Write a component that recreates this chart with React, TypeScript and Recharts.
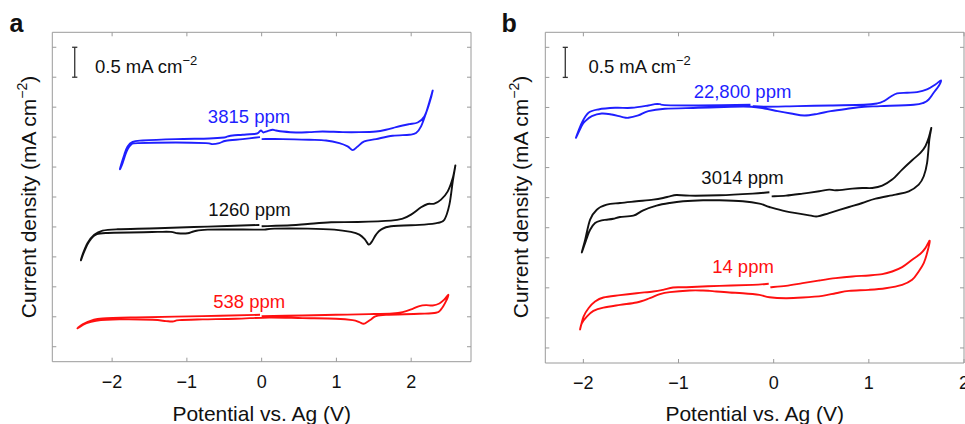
import React from 'react';
import { LineChart, Line, XAxis, YAxis, ReferenceLine } from 'recharts';

// potential (V) vs current density (mA cm-2, offset per trace)
const xTicks = [-2, -1, 0, 1, 2];
const yTicks = [0, 0.5, 1, 1.5, 2, 2.5, 3, 3.5, 4, 4.5, 5];
const scaleBar = 0.5;

const cvA3815 = [
  [0.0, 3.467], [0.281, 3.467], [0.638, 3.456], [0.861, 3.444], [1.039, 3.4], [1.15, 3.344], [1.217, 3.283],
  [1.284, 3.344], [1.373, 3.428], [1.53, 3.467], [1.753, 3.522], [1.975, 3.539], [2.065, 3.567], [2.132, 3.678],
  [2.198, 3.9], [2.252, 4.122], [2.288, 4.278], [2.243, 4.067], [2.176, 3.844], [2.087, 3.744], [1.975, 3.717],
  [1.886, 3.694], [1.797, 3.667], [1.663, 3.622], [1.53, 3.594], [1.307, 3.583], [1.084, 3.583], [0.816, 3.594],
  [0.638, 3.583], [0.459, 3.578], [0.281, 3.594], [0.192, 3.611], [0.147, 3.622], [0.08, 3.6], [0.022, 3.578],
  [-0.009, 3.611], [-0.04, 3.578], [-0.076, 3.556], [-0.254, 3.539], [-0.388, 3.528], [-0.455, 3.511],
  [-0.499, 3.494], [-0.7, 3.478], [-1.146, 3.467], [-1.592, 3.444], [-1.726, 3.422], [-1.793, 3.344],
  [-1.837, 3.206], [-1.895, 2.967], [-1.86, 3.067], [-1.806, 3.261], [-1.748, 3.372], [-1.659, 3.4],
  [-1.146, 3.411], [-0.745, 3.4], [-0.656, 3.383], [-0.566, 3.4], [-0.477, 3.439], [-0.254, 3.467], [-0.022, 3.5],
];

const cvA1260 = [
  [0.0, 2.011], [0.392, 2.028], [0.616, 2.05], [0.928, 2.078], [1.284, 2.083], [1.73, 2.106], [1.886, 2.139],
  [1.998, 2.206], [2.132, 2.328], [2.221, 2.383], [2.31, 2.389], [2.399, 2.456], [2.489, 2.594], [2.556, 2.817],
  [2.591, 3.028], [2.556, 2.761], [2.511, 2.372], [2.444, 2.122], [2.355, 2.067], [2.176, 2.039], [1.73, 2.011],
  [1.596, 1.956], [1.53, 1.872], [1.472, 1.75], [1.431, 1.706], [1.383, 1.789], [1.307, 1.872], [1.195, 1.917],
  [0.972, 1.956], [0.616, 1.972], [0.17, 1.972], [0.036, 1.956], [-0.098, 1.956], [-0.722, 1.956],
  [-0.901, 1.928], [-0.99, 1.894], [-1.124, 1.894], [-1.213, 1.917], [-1.391, 1.917], [-2.06, 1.9],
  [-2.216, 1.872], [-2.305, 1.761], [-2.372, 1.594], [-2.417, 1.444], [-2.395, 1.539], [-2.328, 1.733],
  [-2.239, 1.872], [-2.127, 1.939], [-1.926, 1.961], [-1.391, 1.978], [-0.722, 2.006], [-0.031, 2.033],
];

const cvA538 = [
  [0.0, 0.511], [0.548, 0.522], [0.994, 0.533], [1.44, 0.544], [1.752, 0.556], [1.886, 0.578], [2.02, 0.633],
  [2.109, 0.678], [2.198, 0.694], [2.288, 0.689], [2.377, 0.722], [2.444, 0.789], [2.497, 0.867], [2.466, 0.761],
  [2.399, 0.622], [2.332, 0.567], [2.109, 0.55], [1.663, 0.533], [1.529, 0.511], [1.462, 0.456], [1.396, 0.4],
  [1.36, 0.383], [1.306, 0.411], [1.217, 0.444], [0.994, 0.467], [0.548, 0.478], [0.102, 0.489],
  [-0.343, 0.467], [-0.789, 0.456], [-1.101, 0.444], [-1.19, 0.422], [-1.28, 0.428], [-1.458, 0.45],
  [-1.904, 0.456], [-2.216, 0.433], [-2.35, 0.389], [-2.462, 0.306], [-2.395, 0.372], [-2.261, 0.444],
  [-2.127, 0.472], [-1.681, 0.489], [-0.789, 0.511], [-0.022, 0.533],
];

const cvB22800 = [
  [-0.22, 4.022], [-0.098, 4.011], [0.251, 4.022], [0.6, 4.033], [0.949, 4.044], [1.088, 4.067], [1.158, 4.106],
  [1.228, 4.178], [1.297, 4.233], [1.402, 4.244], [1.507, 4.256], [1.611, 4.3], [1.699, 4.383], [1.758, 4.45],
  [1.734, 4.356], [1.681, 4.244], [1.629, 4.133], [1.577, 4.078], [1.472, 4.044], [1.123, 4.022], [0.949, 4.011],
  [0.775, 3.978], [0.6, 3.939], [0.461, 3.894], [0.321, 3.867], [0.182, 3.9], [0.042, 3.939], [-0.098, 3.983],
  [-0.237, 4.011], [-0.446, 4.011], [-0.795, 3.994], [-1.144, 3.978], [-1.318, 3.939], [-1.423, 3.867],
  [-1.528, 3.828], [-1.597, 3.844], [-1.702, 3.883], [-1.807, 3.9], [-1.911, 3.856], [-1.981, 3.772],
  [-2.016, 3.7], [-2.078, 3.495], [-2.016, 3.744], [-1.946, 3.911], [-1.842, 3.967], [-1.667, 3.994],
  [-1.493, 3.994], [-1.318, 4.033], [-1.249, 4.056], [-1.196, 4.056], [-1.144, 4.039], [-0.795, 4.033],
  [-0.244, 4.044],
];

const cvB3014 = [
  [-0.021, 2.522], [0.129, 2.533], [0.304, 2.567], [0.478, 2.606], [0.583, 2.633], [0.652, 2.622], [0.827, 2.65],
  [0.931, 2.661], [1.036, 2.661], [1.141, 2.7], [1.245, 2.8], [1.35, 2.967], [1.455, 3.122], [1.542, 3.244],
  [1.594, 3.356], [1.629, 3.494], [1.657, 3.661], [1.636, 3.467], [1.612, 3.078], [1.577, 2.856], [1.524, 2.717],
  [1.42, 2.606], [1.28, 2.55], [1.071, 2.483], [0.931, 2.411], [0.792, 2.344], [0.583, 2.244], [0.461, 2.189],
  [0.373, 2.206], [0.129, 2.272], [-0.045, 2.344], [-0.15, 2.4], [-0.324, 2.439], [-0.569, 2.456],
  [-0.743, 2.456], [-0.952, 2.439], [-1.092, 2.411], [-1.231, 2.367], [-1.371, 2.289], [-1.475, 2.2],
  [-1.615, 2.178], [-1.685, 2.15], [-1.754, 2.133], [-1.807, 2.122], [-1.877, 2.078], [-1.929, 1.967],
  [-1.964, 1.828], [-2.016, 1.589], [-1.981, 1.8], [-1.929, 2.133], [-1.859, 2.3], [-1.754, 2.383],
  [-1.615, 2.411], [-1.441, 2.439], [-1.266, 2.467], [-1.162, 2.494], [-1.092, 2.522], [-1.022, 2.544],
  [-0.882, 2.533], [-0.569, 2.539], [-0.22, 2.567], [-0.045, 2.589],
];

const cvB14 = [
  [-0.035, 1.011], [0.129, 1.033], [0.304, 1.078], [0.478, 1.122], [0.652, 1.161], [0.827, 1.189], [1.001, 1.206],
  [1.141, 1.228], [1.245, 1.272], [1.35, 1.344], [1.455, 1.467], [1.542, 1.567], [1.594, 1.661], [1.64, 1.783],
  [1.612, 1.578], [1.577, 1.411], [1.524, 1.272], [1.455, 1.133], [1.35, 1.05], [1.176, 0.994], [1.001, 0.967],
  [0.792, 0.95], [0.652, 0.911], [0.513, 0.867], [0.304, 0.839], [0.129, 0.828], [-0.045, 0.844],
  [-0.15, 0.883], [-0.324, 0.911], [-0.464, 0.922], [-0.603, 0.939], [-0.673, 0.95], [-0.743, 0.956],
  [-0.882, 0.956], [-1.092, 0.928], [-1.196, 0.894], [-1.301, 0.828], [-1.441, 0.756], [-1.615, 0.717],
  [-1.789, 0.672], [-1.894, 0.617], [-1.964, 0.522], [-2.016, 0.411], [-2.034, 0.311], [-1.998, 0.522],
  [-1.946, 0.661], [-1.877, 0.772], [-1.789, 0.839], [-1.615, 0.878], [-1.441, 0.911], [-1.266, 0.939],
  [-1.162, 0.967], [-1.057, 1.006], [-0.917, 1.011], [-0.569, 1.033], [-0.22, 1.05], [-0.052, 1.067],
];

const labelsA = ['3815 ppm', '1260 ppm', '538 ppm'];
const labelsB = ['22,800 ppm', '3014 ppm', '14 ppm'];

const BLUE = '#1f1fff';
const RED = '#ff1010';
const BLACK = '#111';
const AX = '#9a9a9a';
const FONT = '"Liberation Sans", Arial, Helvetica, sans-serif';

const toPts = (arr: number[][]) => arr.map(([x, y]) => ({ x, y }));
const fmt = (v: number) => (v < 0 ? '\u2212' + Math.abs(v) : String(v));

// catmull-rom style curve: passes through every point, works on loops (x not monotonic)
function loopCurve(context: any) {
  let pts: number[][] = [];
  return {
    areaStart() {},
    areaEnd() {},
    lineStart() {
      pts = [];
    },
    point(x: number, y: number) {
      pts.push([+x, +y]);
    },
    lineEnd() {
      const n = pts.length;
      if (!n) return;
      context.moveTo(pts[0][0], pts[0][1]);
      for (let i = 0; i < n - 1; i++) {
        const p0 = pts[i - 1] || pts[i];
        const p1 = pts[i];
        const p2 = pts[i + 1];
        const p3 = pts[i + 2] || p2;
        context.bezierCurveTo(
          p1[0] + (p2[0] - p0[0]) / 6, p1[1] + (p2[1] - p0[1]) / 6,
          p2[0] - (p3[0] - p1[0]) / 6, p2[1] - (p3[1] - p1[1]) / 6,
          p2[0], p2[1],
        );
      }
    },
  };
}

const BottomTick = (p: any) => (
  <g>
    <line x1={p.x} y1={p.y} x2={p.x} y2={p.y - 4} stroke={AX} />
    <text x={p.x} y={p.y + 26} textAnchor="middle" fontSize={18} fontFamily={FONT} fill={BLACK}>
      {fmt(p.payload.value)}
    </text>
  </g>
);
const TopTick = (p: any) => <line x1={p.x} y1={p.y} x2={p.x} y2={p.y + 4} stroke={AX} />;
const LeftTick = (p: any) => <line x1={p.x} y1={p.y} x2={p.x + 4} y2={p.y} stroke={AX} />;
const RightTick = (p: any) => <line x1={p.x} y1={p.y} x2={p.x - 4} y2={p.y} stroke={AX} />;

type Note = { text: string; x: number; base: number; color: string };

function Txt({ x, base, size, children, color = BLACK, center = false, bold = false }: any) {
  return (
    <div
      style={{
        position: 'absolute',
        left: x,
        top: base - 0.8465 * size,
        fontSize: size,
        lineHeight: `${size}px`,
        color,
        whiteSpace: 'nowrap',
        fontWeight: bold ? 700 : 400,
        transform: center ? 'translateX(-50%)' : undefined,
      }}
    >
      {children}
    </div>
  );
}

function Panel(props: {
  left: number;
  margin: { top: number; right: number; bottom: number; left: number };
  xDomain: [number, number];
  curves: { data: number[][]; color: string }[];
  barX: number;
  capW: number;
}) {
  const { left, margin, xDomain, curves, barX, capW } = props;
  return (
    <div style={{ position: 'absolute', left, top: 0 }}>
      <LineChart width={480} height={424} margin={margin}>
        <XAxis xAxisId="b" dataKey="x" type="number" orientation="bottom" domain={xDomain} allowDataOverflow
          ticks={xTicks} interval={0} height={1} tickSize={0} tickMargin={0} tickLine={false}
          axisLine={{ stroke: AX }} tick={BottomTick} />
        <XAxis xAxisId="t" dataKey="x" type="number" orientation="top" domain={xDomain} allowDataOverflow
          ticks={xTicks} interval={0} height={1} tickSize={0} tickMargin={0} tickLine={false}
          axisLine={{ stroke: AX }} tick={TopTick} />
        <YAxis yAxisId="l" type="number" orientation="left" domain={[-0.25, 5.25]} allowDataOverflow
          ticks={yTicks} interval={0} width={1} tickSize={0} tickMargin={0} tickLine={false}
          axisLine={{ stroke: AX }} tick={LeftTick} />
        <YAxis yAxisId="r" type="number" orientation="right" domain={[-0.25, 5.25]} allowDataOverflow
          ticks={yTicks} interval={0} width={1} tickSize={0} tickMargin={0} tickLine={false}
          axisLine={{ stroke: AX }} tick={RightTick} />
        <ReferenceLine xAxisId="b" yAxisId="l" stroke="#333" strokeWidth={1.3}
          segment={[{ x: barX, y: 5 - scaleBar }, { x: barX, y: 5 }]} />
        <ReferenceLine xAxisId="b" yAxisId="l" stroke="#333" strokeWidth={1.3}
          segment={[{ x: barX - capW, y: 5 }, { x: barX + capW, y: 5 }]} />
        <ReferenceLine xAxisId="b" yAxisId="l" stroke="#333" strokeWidth={1.3}
          segment={[{ x: barX - capW, y: 5 - scaleBar }, { x: barX + capW, y: 5 - scaleBar }]} />
        {curves.map((c, i) => (
          <Line key={i} xAxisId="b" yAxisId="l" data={toPts(c.data)} dataKey="y" type={loopCurve as any}
            stroke={c.color} strokeWidth={1.9} strokeLinejoin="round" dot={false} activeDot={false}
            isAnimationActive={false} />
        ))}
      </LineChart>
    </div>
  );
}

const sup = (size: number, rise: number) => ({ fontSize: size, position: 'relative' as const, top: -rise });

function YTitle({ cx }: { cx: number }) {
  return (
    <div
      style={{
        position: 'absolute',
        left: cx,
        top: 197,
        fontSize: 21,
        lineHeight: '21px',
        whiteSpace: 'nowrap',
        color: BLACK,
        transform: 'translate(-50%, -50%) rotate(-90deg)',
      }}
    >
      Current density (mA cm<span style={sup(14, 9)}>{'\u2212'}2</span>)
    </div>
  );
}

export default function App() {
  const notesA: Note[] = [
    { text: labelsA[0], x: 249, base: 123.3, color: BLUE },
    { text: labelsA[1], x: 249.5, base: 216.7, color: BLACK },
    { text: labelsA[2], x: 249.2, base: 308.3, color: RED },
  ];
  const notesB: Note[] = [
    { text: labelsB[0], x: 742.5, base: 98.3, color: BLUE },
    { text: labelsB[1], x: 742.5, base: 185, color: BLACK },
    { text: labelsB[2], x: 743, base: 273.3, color: RED },
  ];
  return (
    <div style={{ position: 'absolute', left: 0, top: 0, width: 965, height: 424, background: '#fff', fontFamily: FONT, overflow: 'hidden' }}>
      <Panel
        left={0}
        margin={{ top: 31.3, right: 8, bottom: 61.3, left: 51.3 }}
        xDomain={[-2.8, 2.8]}
        curves={[{ data: cvA3815, color: BLUE }, { data: cvA1260, color: BLACK }, { data: cvA538, color: RED }]}
        barX={-2.5}
        capW={0.035}
      />
      <Panel
        left={485}
        margin={{ top: 31.3, right: 0, bottom: 60, left: 59.3 }}
        xDomain={[-2.4, 2.0]}
        curves={[{ data: cvB22800, color: BLUE }, { data: cvB3014, color: BLACK }, { data: cvB14, color: RED }]}
        barX={-2.19}
        capW={0.027}
      />
      <Txt x={9.5} base={31.7} size={25} bold>a</Txt>
      <Txt x={501.5} base={31.7} size={25} bold>b</Txt>
      <Txt x={95} base={73.3} size={18.5}>
        0.5 mA cm<span style={sup(13, 8)}>{'\u2212'}2</span>
      </Txt>
      <Txt x={588.5} base={73.3} size={18.5}>
        0.5 mA cm<span style={sup(13, 8)}>{'\u2212'}2</span>
      </Txt>
      {[...notesA, ...notesB].map((n, i) => (
        <Txt key={i} x={n.x} base={n.base} size={18.5} color={n.color} center>
          {n.text}
        </Txt>
      ))}
      <Txt x={261.7} base={420.3} size={21} center>Potential vs. Ag (V)</Txt>
      <Txt x={754.7} base={420.3} size={21} center>Potential vs. Ag (V)</Txt>
      <YTitle cx={30} />
      <YTitle cx={522} />
    </div>
  );
}
